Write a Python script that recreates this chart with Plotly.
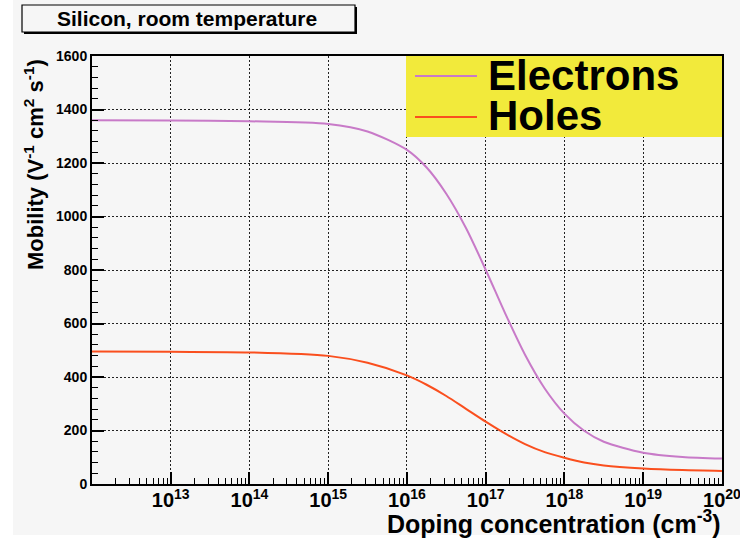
import plotly.graph_objects as go

# Carrier mobility in silicon at room temperature vs. doping concentration
doping = [1.0e12, 1.0e13, 1.0e14, 1.0e15, 3.16e15, 1.0e16, 1.78e16, 3.16e16,
          5.62e16, 1.0e17, 1.78e17, 3.16e17, 5.62e17, 1.0e18, 1.78e18,
          3.16e18, 1.0e19, 3.16e19, 1.0e20]
mu_electrons = [1360, 1359, 1356, 1346, 1318, 1249, 1183, 1085, 957, 801,
                636, 483, 357, 263, 199, 158, 117, 101, 95]
mu_holes = [495, 494, 492, 479, 453, 406, 371, 329, 281, 233, 188, 149,
            119, 98, 80, 69, 58, 52, 49]

series_names = ["Electrons", "Holes"]
series_colors = ["#c87ac8", "#fa4f1e"]

title_text = "Silicon, room temperature"
x_title = "Doping concentration (cm<sup>-3</sup>)"
y_title = "Mobility (V<sup>-1</sup> cm<sup>2</sup> s<sup>-1</sup>)"

W, H = 740, 539
L, R, T, B = 92, 18, 56, 55
PW, PH = W - L - R, H - T - B
BG = "#f6f6f6"
FONT = "Liberation Sans, Arial, sans-serif"


def px(xp):
    return (xp - L) / PW


def py(yp):
    return (H - B - yp) / PH


fig = go.Figure()
for name, ys, col in zip(series_names, [mu_electrons, mu_holes], series_colors):
    fig.add_trace(go.Scatter(x=doping, y=ys, mode="lines", name=name,
                             line=dict(color=col, width=2, shape="spline",
                                       smoothing=0.8),
                             showlegend=False))

shapes = [
    # white canvas border strips
    dict(type="rect", xref="paper", yref="paper", x0=px(0), x1=px(13),
         y0=py(539), y1=py(0), fillcolor="white", line_width=0, layer="below"),
    dict(type="rect", xref="paper", yref="paper", x0=px(0), x1=px(740),
         y0=py(539), y1=py(535), fillcolor="white", line_width=0, layer="below"),
    # title box with shadow
    dict(type="rect", xref="paper", yref="paper", x0=px(24), x1=px(357),
         y0=py(34), y1=py(7), fillcolor="black", line_width=0),
    dict(type="rect", xref="paper", yref="paper", x0=px(22), x1=px(355),
         y0=py(32), y1=py(5), fillcolor=BG, line=dict(color="black", width=1.2)),
    # legend box
    dict(type="rect", xref="paper", yref="paper", x0=px(406), x1=px(722),
         y0=py(137), y1=py(56), fillcolor="#f2ea3b", line_width=0),
]
legend_rows = [76, 117]
for yy, col in zip(legend_rows, series_colors):
    shapes.append(dict(type="line", xref="paper", yref="paper", x0=px(415),
                       x1=px(477), y0=py(yy), y1=py(yy),
                       line=dict(color=col, width=2)))

annotations = [
    dict(text=title_text, xref="paper", yref="paper", x=px(187), y=py(18.5),
         xanchor="center", yanchor="middle", showarrow=False,
         font=dict(family=FONT, size=21, color="black", weight="bold")),
    dict(text=x_title, xref="paper", yref="paper", x=px(723), y=py(522),
         xanchor="right", yanchor="middle", showarrow=False,
         font=dict(family=FONT, size=25, color="black", weight="bold")),
    dict(text=y_title, xref="paper", yref="paper", x=px(33.5), y=py(57),
         xanchor="center", yanchor="top", textangle=-90, showarrow=False,
         font=dict(family=FONT, size=22, color="black", weight="bold")),
]
for name, yy in zip(series_names, [75, 115]):
    annotations.append(dict(text=name, xref="paper", yref="paper", x=px(486),
                            y=py(yy), xanchor="left", yanchor="middle",
                            height=38, showarrow=False,
                            font=dict(family=FONT, size=42, color="black",
                                      weight="bold")))

fig.update_layout(
    width=W, height=H,
    margin=dict(l=L, r=R, t=T, b=B, pad=0, autoexpand=False),
    paper_bgcolor=BG, plot_bgcolor=BG,
    shapes=shapes, annotations=annotations,
    showlegend=False,
    xaxis=dict(type="log", range=[12.001, 20.001], tickmode="linear",
               tick0=0, dtick=1, exponentformat="power", showexponent="all",
               ticklabeloverflow="allow", ticklabelstandoff=-2,
               automargin=False,
               ticks="inside", ticklen=12, tickwidth=1.5, tickcolor="black",
               showline=True, linecolor="black", linewidth=2, mirror=True,
               showgrid=True, gridcolor="#222", griddash="2px,2px", gridwidth=1,
               zeroline=False,
               tickfont=dict(family=FONT, size=16, color="black", weight="bold"),
               minor=dict(ticks="inside", ticklen=6, tickwidth=1,
                          tickcolor="black", dtick="D1", showgrid=False)),
    yaxis=dict(range=[0, 1600], tickmode="linear", tick0=0, dtick=200,
               automargin=False,
               ticks="inside", ticklen=12, tickwidth=1.5, tickcolor="black",
               showline=True, linecolor="black", linewidth=2, mirror=True,
               showgrid=True, gridcolor="#222", griddash="2px,2px", gridwidth=1,
               zeroline=False,
               tickfont=dict(family=FONT, size=14, color="black", weight="bold"),
               minor=dict(ticks="inside", ticklen=6, tickwidth=1,
                          tickcolor="black", dtick=40, showgrid=False)),
)

fig.write_html("out.html")
